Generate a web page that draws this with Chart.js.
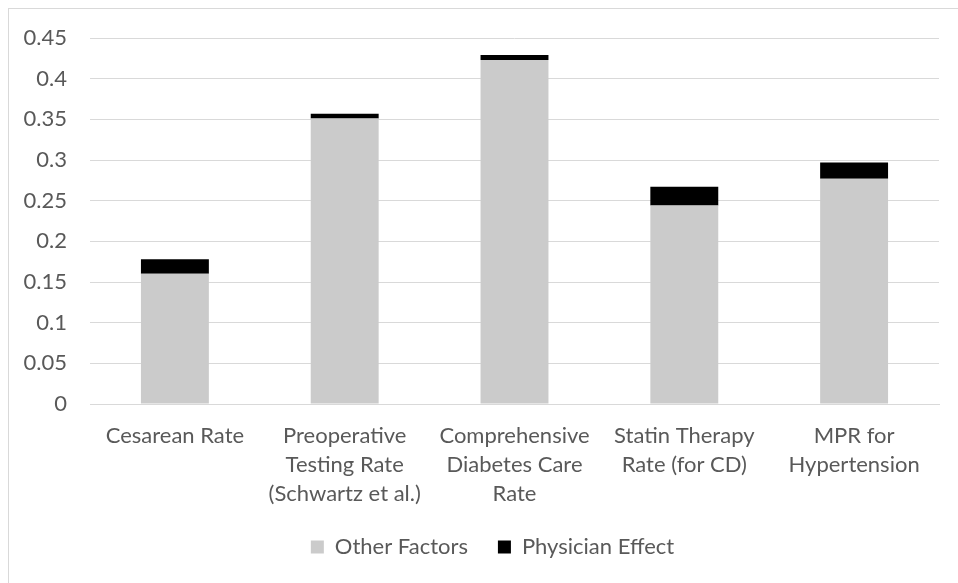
<!DOCTYPE html>
<html>
<head>
<meta charset="utf-8">
<script src="https://cdn.jsdelivr.net/npm/chart.js@4.4.1/dist/chart.umd.min.js"></script>
<style>
  html, body { margin: 0; padding: 0; background: #fff; }
  #wrap { position: relative; width: 958px; height: 583px; overflow: hidden; }
  #frame { position: absolute; left: 8px; top: 8px; width: 980px; height: 600px; border: 1px solid #d9d9d9; box-sizing: border-box; pointer-events: none; }
  canvas { position: absolute; left: 0; top: 0; }
</style>
</head>
<body>
<div id="wrap">
  <canvas id="c" width="958" height="583"></canvas>
  <div id="frame"></div>
</div>
<script>
// Measures and their multi-line axis labels
const categories = [
  "Cesarean Rate",
  ["Preoperative", "Testing Rate", "(Schwartz et al.)"],
  ["Comprehensive", "Diabetes Care", "Rate"],
  ["Statin Therapy", "Rate (for CD)"],
  ["MPR for", "Hypertension"]
];
// Stacked components: base rate from other factors, plus the physician effect on top
const otherFactors    = [0.160, 0.351, 0.423, 0.244, 0.277];
const physicianEffect = [0.018, 0.006, 0.006, 0.023, 0.020];
const seriesNames = ["Other Factors", "Physician Effect"];

const FONT = "Lato, 'Open Sans', sans-serif";
const TEXT = "#595959";
const GRID = "#d9d9d9";

// Centre the legend on the framed panel rather than on the whole canvas
const legendShift = {
  id: "legendShift",
  afterLayout(chart) {
    const lg = chart.legend;
    if (lg) { lg.left += 23; lg.right += 23; }
  }
};

new Chart(document.getElementById("c"), {
  type: "bar",
  data: {
    labels: categories,
    datasets: [
      { label: seriesNames[0], data: otherFactors, backgroundColor: "#cbcbcb", borderWidth: 0 },
      { label: seriesNames[1], data: physicianEffect, backgroundColor: "#000000", borderWidth: 0 }
    ]
  },
  plugins: [legendShift],
  options: {
    responsive: false,
    animation: false,
    layout: { padding: { top: 38, left: 0, right: 19, bottom: 15 } },
    datasets: { bar: { categoryPercentage: 1.0, barPercentage: 0.4 } },
    plugins: {
      tooltip: { enabled: false },
      legend: {
        position: "bottom",
        labels: {
          font: { family: FONT, size: 22 },
          color: TEXT,
          boxWidth: 13,
          boxHeight: 13,
          padding: 30
        }
      }
    },
    scales: {
      x: {
        stacked: true,
        grid: { display: false, drawTicks: false },
        border: { display: true, color: GRID, width: 1 },
        ticks: {
          color: TEXT,
          font: { family: FONT, size: 22, lineHeight: 1.32 },
          padding: 17,
          maxRotation: 0,
          autoSkip: false
        },
        afterFit: (s) => { s.height = 102; }
      },
      y: {
        stacked: true,
        min: 0,
        max: 0.45,
        grid: { color: GRID, drawTicks: false },
        border: { display: false },
        ticks: {
          stepSize: 0.05,
          color: TEXT,
          font: { family: FONT, size: 22 },
          padding: 23,
          callback: (v) => String(Math.round(v * 100) / 100)
        },
        afterFit: (s) => { s.width = 90; }
      }
    }
  }
});
</script>
</body>
</html>
